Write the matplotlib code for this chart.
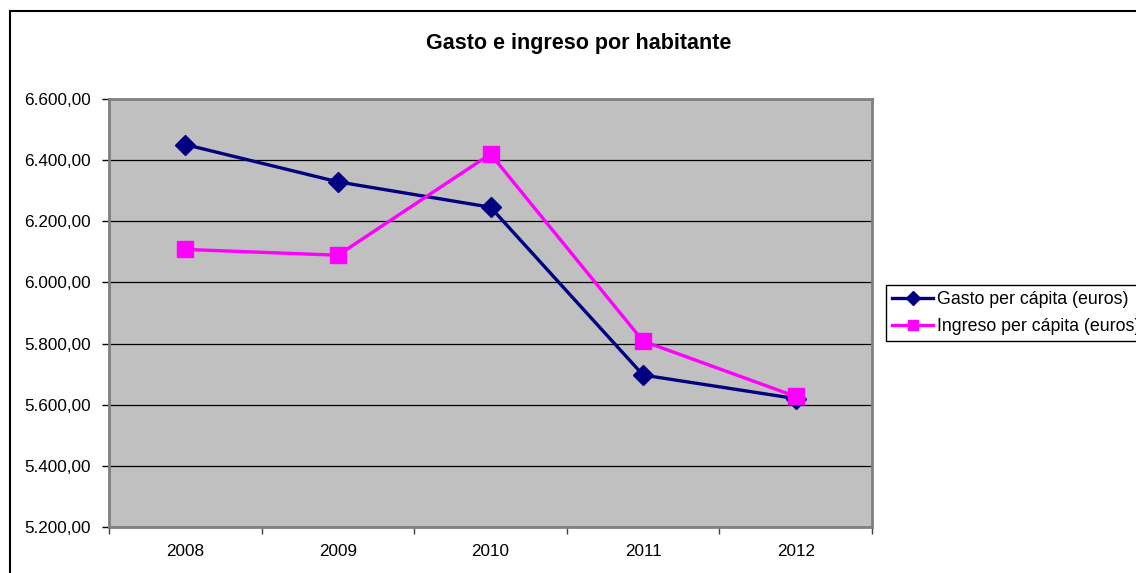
import matplotlib
matplotlib.use("Agg")
import matplotlib.pyplot as plt
from matplotlib.patches import Rectangle

years = ["2008", "2009", "2010", "2011", "2012"]
gasto = [6451, 6329, 6246, 5697, 5620]
ingreso = [6108, 6089, 6420, 5808, 5627]
yticks = [5200, 5400, 5600, 5800, 6000, 6200, 6400, 6600]
ytick_labels = ["5.200,00", "5.400,00", "5.600,00", "5.800,00", "6.000,00", "6.200,00", "6.400,00", "6.600,00"]
title = "Gasto e ingreso por habitante"
labels = ["Gasto per cápita (euros)", "Ingreso per cápita (euros)"]

plt.rcParams['font.family'] = ['Liberation Sans', 'DejaVu Sans']

W, H = 1136, 573
fig = plt.figure(figsize=(W / 100, H / 100), dpi=100)
fig.patch.set_facecolor('white')

# chart area border
fig.patches.append(Rectangle((10 / W, -0.2), 1.3, 1.2 - 10.5 / H,
                             transform=fig.transFigure, fill=False,
                             edgecolor='black', linewidth=1.5, zorder=0))

ax = fig.add_axes([109 / W, 1 - 527 / H, 763 / W, 428 / H])
ax.set_facecolor('#C0C0C0')
x = list(range(len(years)))

ax.plot(x, gasto, color='#000080', linewidth=2.4, marker='D', markersize=10,
        markerfacecolor='#000080', markeredgecolor='#000080', zorder=3, label=labels[0])
ax.plot(x, ingreso, color='#FF00FF', linewidth=2.4, marker='s', markersize=11,
        markerfacecolor='#FF00FF', markeredgecolor='#FF00FF', zorder=3, label=labels[1])

ax.set_xlim(-0.5, len(years) - 0.5)
ax.set_ylim(yticks[0], yticks[-1])
ax.set_yticks(yticks)
ax.set_yticklabels(ytick_labels, fontsize=12.3)
ax.set_xticks(x)
ax.set_xticklabels(years, fontsize=12.3)
ax.tick_params(axis='x', length=0, pad=12)
ax.set_xticks([i - 0.5 for i in range(len(years) + 1)], minor=True)
ax.tick_params(axis='x', which='minor', length=5, width=1, color='#404040', direction='out')
ax.tick_params(axis='y', length=5, width=1, color='black', direction='out', pad=8)

ax.yaxis.grid(True, color='black', linewidth=0.9)
ax.set_axisbelow(True)
for s in ax.spines.values():
    s.set_color('#808080')
    s.set_linewidth(2)

fig.text(579 / W, 1 - 44 / H, title, ha='center', va='center',
         fontsize=15.5, fontweight='bold')

leg = ax.legend(loc='upper left', bbox_to_anchor=(886 / W, 1 - 285 / H),
                bbox_transform=fig.transFigure, fontsize=12.8, frameon=True,
                fancybox=False, edgecolor='black', framealpha=1,
                handlelength=2.3, handletextpad=0.2, borderpad=0.35,
                labelspacing=0.55, borderaxespad=0)
leg.get_frame().set_linewidth(1.0)
for h in leg.legend_handles:
    h.set_markersize(7)

fig.savefig('out.png', dpi=100)
